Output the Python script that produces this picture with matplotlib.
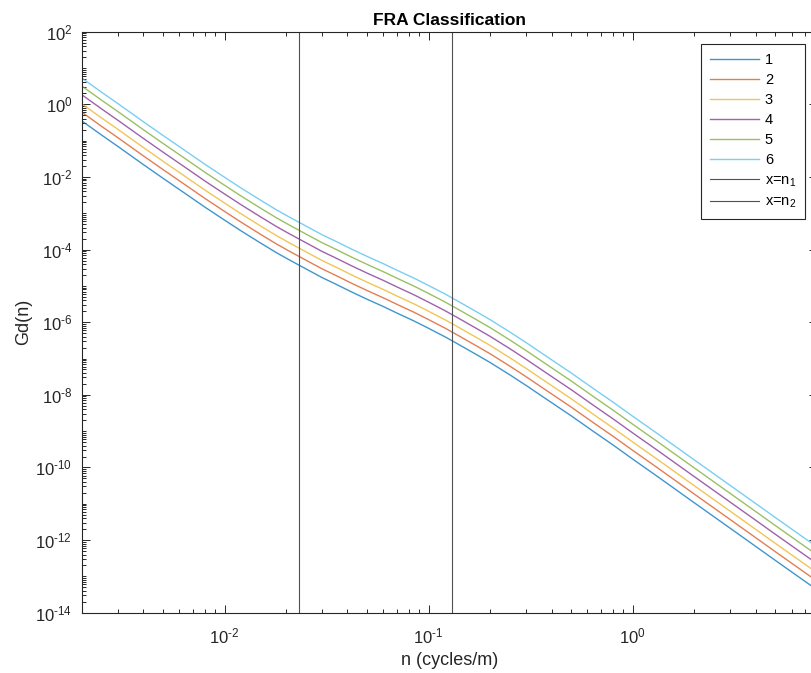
import numpy as np
import matplotlib
matplotlib.use("Agg")
import matplotlib.pyplot as plt
from matplotlib.ticker import LogLocator, NullFormatter, FuncFormatter, FixedLocator

plt.rcParams['font.family'] = ['Liberation Sans', 'DejaVu Sans']
plt.rcParams['mathtext.fontset'] = 'custom'
plt.rcParams['mathtext.rm'] = 'Liberation Sans'
plt.rcParams['mathtext.it'] = 'Liberation Sans'
plt.rcParams['axes.unicode_minus'] = False

##############################################################################
# Data (spatial frequency, log10 of Gd for each class)
n = [0.002, 0.0025, 0.003, 0.004, 0.005, 0.0065, 0.008, 0.01, 0.012, 0.015,
     0.018, 0.021, 0.025, 0.03, 0.035, 0.042, 0.05, 0.06, 0.07, 0.085,
     0.1, 0.12, 0.14, 0.17, 0.2, 0.25, 0.3, 0.38, 0.5, 0.65,
     0.8, 1.0, 1.3, 2.0, 2.7, 3.5, 5.0, 8.0]

log_gd_1 = [-0.46, -0.85, -1.16, -1.66, -2.04, -2.48, -2.83, -3.19, -3.48, -3.82,
            -4.09, -4.30, -4.53, -4.77, -4.95, -5.17, -5.37, -5.57, -5.75, -5.97,
            -6.17, -6.40, -6.61, -6.88, -7.11, -7.45, -7.74, -8.13, -8.58, -9.03,
            -9.38, -9.77, -10.22, -10.97, -11.49, -11.94, -12.56, -13.37]
log_gd_2 = [-0.22, -0.61, -0.92, -1.42, -1.80, -2.24, -2.59, -2.95, -3.24, -3.58,
            -3.85, -4.06, -4.29, -4.53, -4.71, -4.93, -5.13, -5.33, -5.51, -5.73,
            -5.93, -6.16, -6.37, -6.64, -6.87, -7.21, -7.50, -7.89, -8.34, -8.79,
            -9.14, -9.53, -9.98, -10.73, -11.25, -11.70, -12.32, -13.13]
log_gd_3 = [0.01, -0.38, -0.69, -1.19, -1.57, -2.01, -2.36, -2.72, -3.01, -3.35,
            -3.62, -3.83, -4.06, -4.30, -4.48, -4.70, -4.90, -5.10, -5.28, -5.50,
            -5.70, -5.93, -6.14, -6.41, -6.64, -6.98, -7.27, -7.66, -8.11, -8.56,
            -8.91, -9.30, -9.75, -10.50, -11.02, -11.47, -12.09, -12.90]
log_gd_4 = [0.26, -0.13, -0.44, -0.94, -1.32, -1.76, -2.11, -2.47, -2.76, -3.10,
            -3.37, -3.58, -3.81, -4.05, -4.23, -4.45, -4.65, -4.85, -5.03, -5.25,
            -5.45, -5.68, -5.89, -6.16, -6.39, -6.73, -7.02, -7.41, -7.86, -8.31,
            -8.66, -9.05, -9.50, -10.25, -10.77, -11.22, -11.84, -12.65]
log_gd_5 = [0.50, 0.11, -0.20, -0.70, -1.08, -1.52, -1.87, -2.23, -2.52, -2.86,
            -3.13, -3.34, -3.57, -3.81, -3.99, -4.21, -4.41, -4.61, -4.79, -5.01,
            -5.21, -5.44, -5.65, -5.92, -6.15, -6.49, -6.78, -7.17, -7.62, -8.07,
            -8.42, -8.81, -9.26, -10.01, -10.53, -10.98, -11.60, -12.41]
log_gd_6 = [0.72, 0.33, 0.02, -0.48, -0.86, -1.30, -1.65, -2.01, -2.30, -2.64,
            -2.91, -3.12, -3.35, -3.59, -3.77, -3.99, -4.19, -4.39, -4.57, -4.79,
            -4.99, -5.22, -5.43, -5.70, -5.93, -6.27, -6.56, -6.95, -7.40, -7.85,
            -8.20, -8.59, -9.04, -9.79, -10.31, -10.76, -11.38, -12.19]

class_labels = ['1', '2', '3', '4', '5', '6']
n1 = 0.0231
n2 = 0.1306

x_ticks = [1e-2, 1e-1, 1e0]
y_ticks = [1e-14, 1e-12, 1e-10, 1e-8, 1e-6, 1e-4, 1e-2, 1e0, 1e2]

##############################################################################
# Plot
colors = ['#0072BD', '#D95319', '#EDB120', '#7E2F8E', '#77AC30', '#4DBEEE']
series = [log_gd_1, log_gd_2, log_gd_3, log_gd_4, log_gd_5, log_gd_6]


def pow10_label(v, pos):
    e = int(round(np.log10(v)))
    return r'$10^{\text{%d}}$' % e


fig = plt.figure(figsize=(8.11, 6.73), dpi=100)
ax = fig.add_axes([82 / 811, 60.3 / 673, 735 / 811, 581 / 673])

for lab, col, ys in zip(class_labels, colors, series):
    ax.plot(n, 10 ** np.array(ys), color=col, lw=1.0, alpha=0.75, label=lab)

ax.axvline(n1, color='#505050', lw=0.8, label='x=n$_1$')
ax.axvline(n2, color='#505050', lw=0.8, label='x=n$_2$')

ax.set_xscale('log')
ax.set_yscale('log')
ax.set_xlim(0.002, 8)
ax.set_ylim(1e-14, 1e2)

ax.xaxis.set_major_locator(FixedLocator(x_ticks))
ax.yaxis.set_major_locator(FixedLocator(y_ticks))
ax.yaxis.set_minor_locator(LogLocator(base=10.0, subs=np.arange(1, 10), numticks=200))
ax.yaxis.set_minor_formatter(NullFormatter())
ax.xaxis.set_minor_locator(LogLocator(base=10.0, subs=np.arange(2, 10), numticks=50))
ax.xaxis.set_minor_formatter(NullFormatter())
ax.xaxis.set_major_formatter(FuncFormatter(pow10_label))
ax.yaxis.set_major_formatter(FuncFormatter(pow10_label))

ax.tick_params(which='both', direction='in', top=True, right=True,
               colors='#262626', width=0.7)
ax.tick_params(which='major', length=6, labelsize=12)
ax.tick_params(axis='x', which='major', pad=10)
ax.tick_params(axis='y', which='major', pad=7)
ax.tick_params(which='minor', length=3)
for sp in ax.spines.values():
    sp.set_color('#262626')
    sp.set_linewidth(0.8)

ax.set_xlabel('n (cycles/m)', fontsize=13, color='#262626', labelpad=4)
ax.set_ylabel('Gd(n)', fontsize=13, color='#262626', labelpad=2)
ax.set_title('FRA Classification', fontsize=12.5, fontweight='bold', color='#000000', pad=5)

leg = ax.legend(loc='upper right', bbox_to_anchor=(805 / 811, 1 - 44 / 673),
                bbox_transform=fig.transFigure, borderaxespad=0, fontsize=10.5,
                handlelength=3.4, handletextpad=0.4, labelspacing=0.42,
                fancybox=False, framealpha=1, edgecolor='#262626', borderpad=0.6)
leg.get_frame().set_linewidth(0.8)

fig.savefig('out.png', dpi=100)
